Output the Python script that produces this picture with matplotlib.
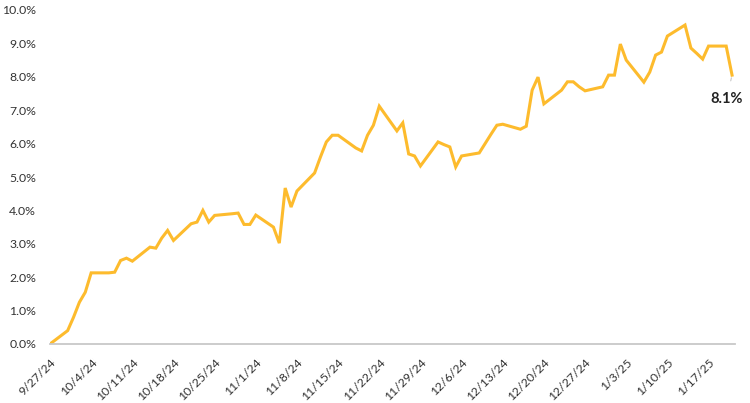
import pandas as pd
import matplotlib.pyplot as plt
import matplotlib.dates as mdates
from matplotlib.ticker import FuncFormatter

dates = [
    '2024-09-27', '2024-09-30', '2024-10-01', '2024-10-02', '2024-10-03', '2024-10-04',
    '2024-10-07', '2024-10-08', '2024-10-09', '2024-10-10', '2024-10-11',
    '2024-10-14', '2024-10-15', '2024-10-16', '2024-10-17', '2024-10-18',
    '2024-10-21', '2024-10-22', '2024-10-23', '2024-10-24', '2024-10-25',
    '2024-10-28', '2024-10-29', '2024-10-30', '2024-10-31', '2024-11-01',
    '2024-11-04', '2024-11-05', '2024-11-06', '2024-11-07', '2024-11-08',
    '2024-11-11', '2024-11-12', '2024-11-13', '2024-11-14', '2024-11-15',
    '2024-11-18', '2024-11-19', '2024-11-20', '2024-11-21', '2024-11-22',
    '2024-11-25', '2024-11-26', '2024-11-27', '2024-11-28', '2024-11-29',
    '2024-12-02', '2024-12-03', '2024-12-04', '2024-12-05', '2024-12-06',
    '2024-12-09', '2024-12-10', '2024-12-11', '2024-12-12', '2024-12-13',
    '2024-12-16', '2024-12-17', '2024-12-18', '2024-12-19', '2024-12-20',
    '2024-12-23', '2024-12-24', '2024-12-25', '2024-12-26', '2024-12-27',
    '2024-12-30', '2024-12-31', '2025-01-01', '2025-01-02', '2025-01-03',
    '2025-01-06', '2025-01-07', '2025-01-08', '2025-01-09', '2025-01-10',
    '2025-01-13', '2025-01-14', '2025-01-15', '2025-01-16', '2025-01-17',
    '2025-01-20', '2025-01-21',
]
returns = [
    0.00, 0.40, 0.80, 1.25, 1.55, 2.13,
    2.13, 2.15, 2.50, 2.57, 2.48,
    2.90, 2.87, 3.17, 3.40, 3.10,
    3.60, 3.65, 4.00, 3.65, 3.85,
    3.90, 3.92, 3.58, 3.58, 3.86,
    3.50, 3.02, 4.67, 4.10, 4.58,
    5.12, 5.60, 6.05, 6.25, 6.25,
    5.87, 5.78, 6.25, 6.55, 7.12,
    6.38, 6.62, 5.69, 5.63, 5.33,
    6.05, 5.97, 5.90, 5.30, 5.63,
    5.72, 6.00, 6.28, 6.55, 6.58,
    6.43, 6.52, 7.60, 7.99, 7.19,
    7.60, 7.85, 7.85, 7.70, 7.58,
    7.70, 8.05, 8.05, 8.98, 8.50,
    7.84, 8.14, 8.65, 8.74, 9.22,
    9.55, 8.86, 8.70, 8.53, 8.92,
    8.92, 8.05,
]
tick_dates = pd.date_range('2024-09-27', '2025-01-17', freq='7D')
y_ticks = [0, 1, 2, 3, 4, 5, 6, 7, 8, 9, 10]

x = pd.to_datetime(dates)

plt.rcParams['font.family'] = ['Lato', 'DejaVu Sans']

fig = plt.figure(figsize=(7.5, 4.03), dpi=100)
ax = fig.add_axes([50 / 750, 59 / 403, 685 / 750, 334 / 403])

ax.plot(x, returns, color='#FDBB2D', lw=2.2, solid_joinstyle='miter')

ax.set_ylim(0, 10)
ax.set_xlim(x[0], pd.Timestamp('2025-01-21 12:00'))
ax.set_yticks(y_ticks)
ax.yaxis.set_major_formatter(FuncFormatter(lambda v, p: f'{v:.1f}%'))
ax.set_xticks(tick_dates)
ax.xaxis.set_major_formatter(FuncFormatter(
    lambda v, p: f'{mdates.num2date(v).month}/{mdates.num2date(v).day}/{mdates.num2date(v).year % 100}'))

for lbl in ax.get_xticklabels():
    lbl.set_rotation(45)
    lbl.set_ha('right')
    lbl.set_rotation_mode('anchor')

ax.tick_params(axis='both', length=0, labelsize=8.8, labelcolor='#333333')
ax.tick_params(axis='x', pad=9)
ax.tick_params(axis='y', pad=10)

for s in ['top', 'right', 'left']:
    ax.spines[s].set_visible(False)
ax.spines['bottom'].set_color('#C8C8C8')
ax.spines['bottom'].set_linewidth(1.3)

# end label with small leader line
ax.annotate(f'{returns[-1]:.1f}%', xy=(x[-1], returns[-1]),
            xytext=(-4, -17), textcoords='offset points',
            ha='center', va='center', fontsize=10.5, fontweight='bold', color='#222222',
            arrowprops=dict(arrowstyle='-', color='#C8C8C8', lw=0.8, shrinkA=6, shrinkB=2))

fig.savefig('out.png', dpi=100)
